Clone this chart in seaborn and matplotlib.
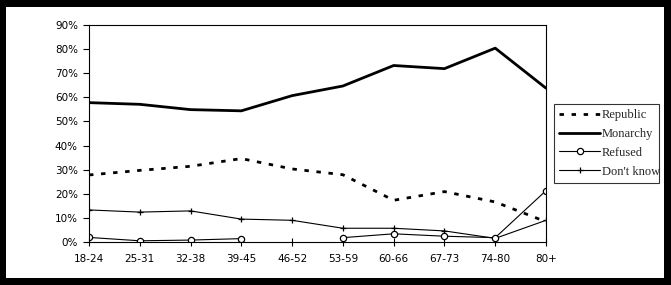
import numpy as np
import pandas as pd
import matplotlib
matplotlib.use("Agg")
import matplotlib.pyplot as plt
from matplotlib.patches import Rectangle
from matplotlib.lines import Line2D
from matplotlib.ticker import FuncFormatter
import seaborn as sns

categories = ["18-24", "25-31", "32-38", "39-45", "46-52", "53-59", "60-66", "67-73", "74-80", "80+"]
republic = [27.8, 29.7, 31.4, 34.6, 30.3, 27.9, 17.3, 20.9, 16.6, 8.4]
monarchy = [57.8, 57.1, 54.9, 54.4, 60.7, 64.7, 73.2, 71.9, 80.4, 63.8]
refused = [1.9, 0.5, 0.8, 1.4, np.nan, 1.8, 3.4, 2.4, 1.8, 21.3]
dont_know = [13.3, 12.4, 12.9, 9.5, 9.0, 5.7, 5.7, 4.6, 1.5, 9.0]
yticks = [0, 10, 20, 30, 40, 50, 60, 70, 80, 90]

sns.set_style("white")
plt.rcParams["font.family"] = ["DejaVu Sans"]
plt.rcParams["lines.scale_dashes"] = False

fig = plt.figure(figsize=(6.71, 2.85), dpi=100)
fig.patch.set_facecolor("black")
W, H = 671, 285
fig.add_artist(Rectangle((6 / W, 7 / H), (664 - 6) / W, (278 - 7) / H,
                         transform=fig.transFigure, facecolor="white", edgecolor="none", zorder=0))

ax = fig.add_axes([89 / W, (H - 242) / H, 457 / W, 217 / H])
ax.set_facecolor("white")

pos = np.arange(len(categories))

df_rep = pd.DataFrame({"x": pos, "y": republic})
df_mon = pd.DataFrame({"x": pos, "y": monarchy})
df_dk = pd.DataFrame({"x": pos, "y": dont_know})
df_ref = pd.DataFrame({"x": pos, "y": refused})
df_ref["seg"] = df_ref["y"].isna().cumsum()
df_ref = df_ref.dropna()

dash = (0, (3.2, 5.5))
sns.lineplot(data=df_rep, x="x", y="y", ax=ax, color="black", lw=2.0,
             linestyle=dash, estimator=None)
sns.lineplot(data=df_mon, x="x", y="y", ax=ax, color="black", lw=2.0, estimator=None)
sns.lineplot(data=df_dk, x="x", y="y", ax=ax, color="black", lw=0.8, marker="+",
             markersize=5, markeredgewidth=0.9, markeredgecolor="black", estimator=None)
sns.lineplot(data=df_ref, x="x", y="y", units="seg", ax=ax, color="black", lw=0.8,
             marker="o", markersize=4.5, markerfacecolor="white", markeredgecolor="black",
             markeredgewidth=0.9, estimator=None)

ax.set_xlim(0, len(categories) - 1)
ax.set_ylim(0, 90)
ax.set_xticks(pos)
ax.set_xticklabels(categories)
ax.set_yticks(yticks)
ax.yaxis.set_major_formatter(FuncFormatter(lambda v, p: f"{int(v)}%"))
ax.set_xlabel("")
ax.set_ylabel("")
for s in ax.spines.values():
    s.set_visible(True)
    s.set_color("black")
    s.set_linewidth(0.8)
ax.tick_params(axis="y", direction="out", length=4, width=0.8, pad=4, labelsize=7.5,
               left=True, colors="black")
ax.tick_params(axis="x", direction="inout", length=6, width=0.8, pad=6, labelsize=7.5,
               bottom=True, colors="black")

handles = [
    Line2D([], [], color="black", lw=2.0, linestyle=dash),
    Line2D([], [], color="black", lw=2.0),
    Line2D([], [], color="black", lw=0.8, marker="o", markersize=4.5,
           markerfacecolor="white", markeredgewidth=0.9),
    Line2D([], [], color="black", lw=0.8, marker="+", markersize=5, markeredgewidth=0.9),
]
labels = ["Republic", "Monarchy", "Refused", "Don't know"]
leg = fig.legend(handles, labels, loc="upper left",
                 bbox_to_anchor=(554 / W, 1 - 181 / H, 105 / W, 77 / H),
                 mode="expand", borderaxespad=0, frameon=True, fancybox=False,
                 prop={"family": "Liberation Serif", "size": 9},
                 handlelength=3.3, handletextpad=0.1, labelspacing=0.55,
                 borderpad=0.4, numpoints=1)
leg.get_frame().set_edgecolor("black")
leg.get_frame().set_linewidth(0.8)

fig.savefig("out.png", dpi=100, facecolor=fig.get_facecolor())
